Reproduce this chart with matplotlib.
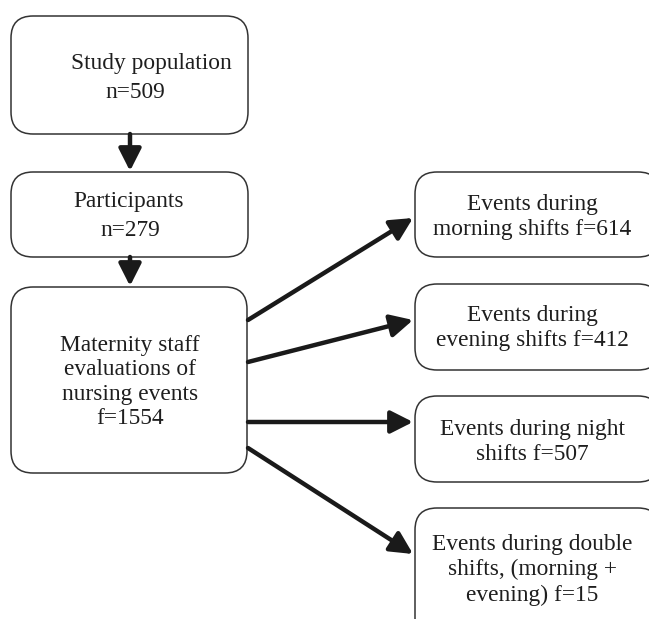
import matplotlib
matplotlib.use("Agg")
import matplotlib.pyplot as plt
from matplotlib.patches import FancyBboxPatch

# Data
stage_labels = ["Study population", "Participants", "Maternity staff\nevaluations of\nnursing events"]
stage_counts = ["n=509", "n=279", "f=1554"]
shift_labels = ["Events during\nmorning shifts", "Events during\nevening shifts",
                "Events during night\nshifts", "Events during double\nshifts, (morning +\nevening)"]
shift_counts = [614, 412, 507, 15]

W, H = 649, 619
fig = plt.figure(figsize=(W / 100, H / 100), dpi=100)
ax = fig.add_axes([0, 0, 1, 1])
ax.set_xlim(0, W)
ax.set_ylim(H, 0)
ax.axis("off")

FONT = dict(family="Liberation Serif", fontsize=16.8, color="#1e1e1e")
EDGE = "#333333"

def box(x0, y0, x1, y1, r=22):
    p = FancyBboxPatch((x0, y0), x1 - x0, y1 - y0,
                       boxstyle=f"round,pad=0,rounding_size={r}",
                       fc="white", ec=EDGE, lw=1.1, clip_on=False)
    ax.add_patch(p)

def arrow(x0, y0, x1, y1):
    ax.annotate("", xy=(x1, y1), xytext=(x0, y0),
                arrowprops=dict(arrowstyle="-|>,head_length=0.75,head_width=0.38",
                                lw=3.2, color="#1a1a1a", shrinkA=0, shrinkB=0,
                                mutation_scale=18))

# Left boxes
left_boxes = [(11, 16, 248, 134), (11, 172, 248, 257), (11, 287, 247, 473)]
for b in left_boxes:
    box(*b)

# Box 1 text
ax.text(151, 63, stage_labels[0], ha="center", va="center", **FONT)
ax.text(135, 92, stage_counts[0], ha="center", va="center", **FONT)
# Box 2 text
ax.text(129, 201, stage_labels[1], ha="center", va="center", **FONT)
ax.text(130, 231, stage_counts[1], ha="center", va="center", **FONT)
# Box 3 text
ax.text(130, 382, stage_labels[2] + "\n" + stage_counts[2], ha="center", va="center",
        linespacing=1.22, **FONT)

# Vertical arrows
arrow(130, 134, 130, 171)
arrow(130, 257, 130, 286)

# Right boxes
right_boxes = [(415, 172, 660, 257), (415, 284, 660, 370), (415, 396, 660, 482), (415, 508, 660, 640)]
text_centers = [(532, 217), (532, 328), (532, 442), (532, 570)]
for b, lab, cnt, (cx, cy) in zip(right_boxes, shift_labels, shift_counts, text_centers):
    box(*b)
    ax.text(cx, cy, f"{lab} f={cnt}", ha="center", va="center", linespacing=1.28, **FONT)

# Diagonal arrows
starts = [(248, 320), (248, 362), (248, 422), (248, 448)]
ends = [(413, 218), (413, 320), (413, 422), (413, 554)]
for (sx, sy), (ex, ey) in zip(starts, ends):
    arrow(sx, sy, ex, ey)

fig.savefig("out.png", dpi=100, facecolor="white")
